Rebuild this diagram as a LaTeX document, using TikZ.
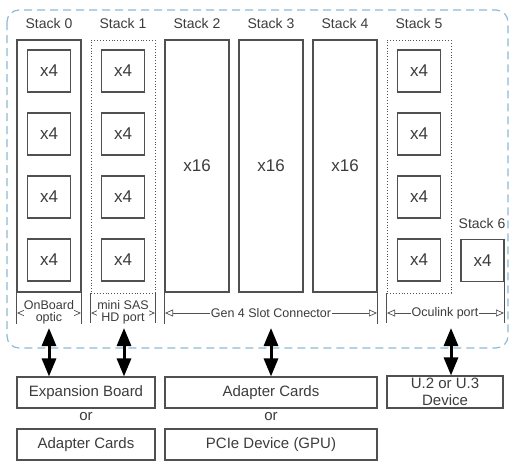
\documentclass[tikz,border=0pt]{standalone}
\usepackage{fontspec}
\setmainfont{Liberation Sans}
\usetikzlibrary{arrows.meta}
\definecolor{txt}{HTML}{3C3C3C}
\definecolor{edge}{HTML}{505050}
\definecolor{outerc}{HTML}{8DBAD6}
\begin{document}
\begin{tikzpicture}[x=1pt,y=-1pt,
  lbl/.style={text=txt,font=\fontsize{14}{16}\selectfont,inner sep=0},
  quad/.style={draw=edge,line width=1.1pt,minimum width=43pt,minimum height=42pt,
    font=\fontsize{17}{18}\selectfont,text=txt,inner sep=0},
  stackbox/.style={draw=edge,line width=1.1pt,minimum width=64pt,minimum height=252pt,inner sep=0},
  dotbox/.style={draw=edge,dotted,line width=0.9pt,minimum width=64pt,minimum height=253pt,inner sep=0},
  ext/.style={draw=edge,line width=1.1pt},
  dimline/.style={draw=edge,line width=0.7pt,{Triangle[open,length=8pt,width=7pt]}-{Triangle[open,length=8pt,width=7pt]}},
  dimtxt/.style={fill=white,text=txt,font=\fontsize{12.5}{14}\selectfont,inner sep=1pt,align=center},
  botbox/.style={draw=edge,line width=1.1pt,minimum height=31pt,inner sep=0,
    font=\fontsize{15}{16}\selectfont,text=txt,align=center},
  ortxt/.style={text=txt,font=\fontsize{15}{16}\selectfont,inner sep=0},
  big/.style={line width=3pt,{Triangle[length=18pt,width=14pt]}-{Triangle[length=18pt,width=14pt]}}
]
\useasboundingbox (0,0) rectangle (511,461);
% outer dashed frame
\draw[outerc,line width=1.2pt,dash pattern=on 8pt off 5pt,rounded corners=12pt] (7,10) rectangle (508,348);

% stack labels
\node[lbl] (l0) at (49,23) {Stack 0};
\node[lbl] (l1) at (123,23) {Stack 1};
\node[lbl] (l2) at (197,23) {Stack 2};
\node[lbl] (l3) at (271,23) {Stack 3};
\node[lbl] (l4) at (345,23) {Stack 4};
\node[lbl] (l5) at (419,23) {Stack 5};
\node[lbl] (l6) at (482,223) {Stack 6};

% stack outlines
\node[stackbox] (s0) at (49,166) {};
\node[dotbox] (s1) at (123,166.5) {};
\node[stackbox,font=\fontsize{17}{18}\selectfont,text=txt] (s2) at (197,166) {x16};
\node[stackbox,font=\fontsize{17}{18}\selectfont,text=txt] (s3) at (271,166) {x16};
\node[stackbox,font=\fontsize{17}{18}\selectfont,text=txt] (s4) at (345,166) {x16};
\node[dotbox] (s5) at (419,166.5) {};

% x4 blocks
\foreach \i/\y in {1/71,2/134,3/197,4/260}{
  \node[quad] (a\i) at (49,\y) {x4};
  \node[quad] (b\i) at (123,\y) {x4};
  \node[quad] (c\i) at (419,\y) {x4};
}
\node[quad] (s6) at (482.5,260.5) {x4};

% extension lines
\draw[ext] (s0.south west) -- ++(0,31);
\draw[ext] (s0.south east) -- ++(0,31);
\draw[ext] (s1.south west) -- ++(0,30);
\draw[ext] (s1.south east) -- ++(0,30);
\draw[ext] (s2.south west) -- ++(0,31);
\draw[ext] (s4.south east) -- ++(0,31);
\draw[ext] (s5.south west) -- ++(0,30);
\draw[ext] (s6.south east) -- (s6.south east |- s5.south) -- ++(0,30);

% dimension lines
\coordinate (p0l) at (17,313); \coordinate (p0r) at (81,313);
\coordinate (p1l) at (91,313); \coordinate (p1r) at (155,313);
\coordinate (p2l) at (165,313); \coordinate (p2r) at (377,313);
\coordinate (p5l) at (387,313); \coordinate (p5r) at (504,313);
\draw[dimline] (p0l) -- (p0r);
\draw[dimline] (p1l) -- (p1r);
\draw[dimline] (p2l) -- (p2r);
\draw[dimline] (p5l) -- (p5r);
\node[dimtxt,inner sep=0] (d0) at (49,312) {OnBoard\\[-2pt]optic};
\node[dimtxt,inner sep=0] (d1) at (123,312) {mini SAS\\[-2pt]HD port};
\node[dimtxt] (d2) at (271,313) {Gen 4 Slot Connector};
\node[dimtxt] (d5) at (445,313) {Oculink port};

% bottom boxes
\node[botbox,minimum width=138pt] (eb) at (86,392.5) {Expansion Board};
\node[ortxt] (or1) at (86,417) {or};
\node[botbox,minimum width=138pt] (ac1) at (86,444.5) {Adapter Cards};
\node[botbox,minimum width=212pt] (ac2) at (271,392.5) {Adapter Cards};
\node[ortxt] (or2) at (271,417) {or};
\node[botbox,minimum width=212pt] (gpu) at (271,444.5) {PCIe Device (GPU)};
\node[botbox,minimum width=116pt,minimum height=32pt,font=\fontsize{15}{17}\selectfont] (u2) at (445,392) {U.2 or U.3\\Device};

% big arrows
\coordinate (t0) at (49,328);
\coordinate (t1) at (124,328);
\coordinate (t2) at (271,328);
\coordinate (t5) at (451,328);
\draw[big] (t0) -- (t0 |- eb.north);
\draw[big] (t1) -- (t1 |- eb.north);
\draw[big] (t2) -- (t2 |- ac2.north);
\draw[big] (t5) -- (t5 |- u2.north);
\end{tikzpicture}
\end{document}
